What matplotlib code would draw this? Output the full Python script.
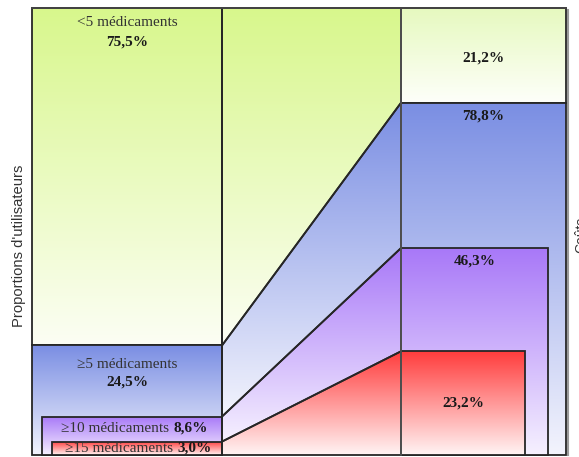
import numpy as np
import matplotlib
matplotlib.use("Agg")
import matplotlib.pyplot as plt
from matplotlib.patches import Polygon
from matplotlib.colors import LinearSegmentedColormap

# users by number of drugs, and their share of costs (%)
groups = ['<5 médicaments', '≥5 médicaments', '≥10 médicaments', '≥15 médicaments']
users_pct = [75.5, 24.5, 8.6, 3.0]
cost_pct = [21.2, 78.8, 46.3, 23.2]

SERIF = ['Liberation Serif', 'DejaVu Serif']
SANS = ['Liberation Sans', 'DejaVu Sans']
EDGE = '#262626'

# colours per group: top of gradient -> bottom
greens = ('#d8f78c', '#fcfef4')
greens_light = ('#e6f9bf', '#fefffa')
blues = ('#7a8ee3', '#f3f4fd')
purples = ('#a878f8', '#f6f1ff')
reds = ('#ff3c3c', '#fff4f4')


def grad_fill(ax, verts, colors, z, lw=1.3):
    poly = Polygon(verts, closed=True, facecolor='none', edgecolor=EDGE,
                   lw=lw, zorder=z + 0.5)
    ax.add_patch(poly)
    xs = [v[0] for v in verts]
    ys = [v[1] for v in verts]
    cmap = LinearSegmentedColormap.from_list('g', list(colors))
    g = np.linspace(0, 1, 256)[:, None]
    im = ax.imshow(g, cmap=cmap, origin='upper', aspect='auto',
                   extent=[min(xs), max(xs), min(ys), max(ys)], zorder=z,
                   interpolation='bilinear')
    im.set_clip_path(poly)


def box(x0, x1, y0, y1):
    return [(x0, y0), (x0, y1), (x1, y1), (x1, y0)]


def pct(v):
    return f'{v:.1f}%'.replace('.', ',')


fig = plt.figure(figsize=(5.79, 4.57), dpi=100)
ax = fig.add_axes([0, 0, 1, 1])
ax.axis('off')

# column positions
lx0, lx1 = 32, 222
rx0, rx1 = 401, 566
l_in = [32, 42, 52]
r_out = [566, 548, 525]

# left column: users
u_tops = [100, users_pct[1], users_pct[2], users_pct[3]]
grad_fill(ax, box(lx0, lx1, u_tops[1], 100), greens, 2)
grad_fill(ax, box(l_in[0], lx1, 0, u_tops[1]), blues, 3)
grad_fill(ax, box(l_in[1], lx1, 0, u_tops[2]), purples, 4)
grad_fill(ax, box(l_in[2], lx1, 0, u_tops[3]), reds, 5)

# right column: costs
c_tops = [100, cost_pct[1], cost_pct[2], cost_pct[3]]
grad_fill(ax, box(rx0, rx1, c_tops[1], 100), greens_light, 2)
grad_fill(ax, box(rx0, r_out[0], 0, c_tops[1]), blues, 3)
grad_fill(ax, box(rx0, r_out[1], 0, c_tops[2]), purples, 4)
grad_fill(ax, box(rx0, r_out[2], 0, c_tops[3]), reds, 5)

# connecting bands
bands = [greens, blues, purples, reds]
edges_l = u_tops + [0]
edges_r = c_tops + [0]
for i, cols in enumerate(bands):
    verts = [(lx1, edges_l[i + 1]), (lx1, edges_l[i]),
             (rx0, edges_r[i]), (rx0, edges_r[i + 1])]
    grad_fill(ax, verts, cols, 2)

ax.plot([lx1, lx1], [0, 100], color=EDGE, lw=1.4, zorder=8)
ax.plot([rx0, rx0], [0, 100], color='#555555', lw=1.2, zorder=8)
ax.plot([lx0, rx1], [100, 100], color='#444444', lw=1.4, zorder=8)
ax.plot([rx1 + 1.5, rx1 + 1.5], [0, 99.5], color='#9a9a9a', lw=1.5, zorder=1)


def py(p):
    # pixel row -> percent on the vertical scale
    return (455 - p) / 4.47


FS = 11
lab = dict(family=SERIF, fontsize=FS, color='#333333', ha='center', va='center', zorder=10)
val = dict(family=SERIF, fontsize=FS, color='#1a1a1a', ha='center', va='center',
           fontweight='bold', zorder=10)

cx = 127
ax.text(cx, py(23), groups[0], **lab)
ax.text(cx, py(42), pct(users_pct[0]), **val)
ax.text(cx, py(364), groups[1], **lab)
ax.text(cx, py(382), pct(users_pct[1]), **val)

for i, yp, xr in [(2, 428, 169), (3, 448.5, 173)]:
    t = ax.text(xr, py(yp), groups[i], family=SERIF, fontsize=FS,
                color='#333333', ha='right', va='center', zorder=10)
    ax.annotate(pct(users_pct[i]), xy=(1, 0.5), xycoords=t,
                xytext=(3, 0), textcoords='offset points',
                ha='left', va='center', family=SERIF, fontsize=FS,
                fontweight='bold', color='#1a1a1a', zorder=10)

ax.text((rx0 + r_out[0]) / 2, py(58), pct(cost_pct[0]), **val)
ax.text((rx0 + r_out[0]) / 2, py(116), pct(cost_pct[1]), **val)
ax.text((rx0 + r_out[1]) / 2, py(261), pct(cost_pct[2]), **val)
ax.text((rx0 + r_out[2]) / 2, py(403), pct(cost_pct[3]), **val)

ax.text(19, py(246), "Proportions d'utilisateurs", family=SANS,
        fontsize=10.6, color='#333333', rotation=90, ha='center', va='center')
ax.text(581, py(235), 'Coûts', family=SANS,
        fontsize=10, color='#333333', rotation=90, ha='center', va='center',
        clip_on=False)

ax.set_xlim(0, 579)
ax.set_ylim(py(457), py(0))

fig.savefig('out.png', dpi=100)
